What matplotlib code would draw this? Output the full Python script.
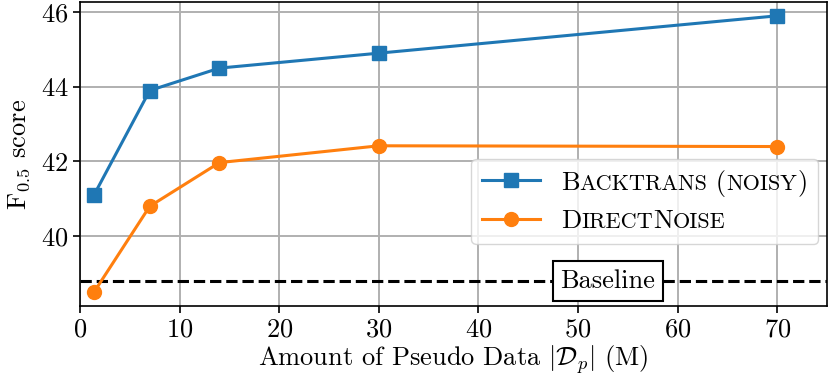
import numpy as np
import matplotlib
matplotlib.use('Agg')
import matplotlib.pyplot as plt
from matplotlib.offsetbox import TextArea, HPacker

plt.rcParams['font.family'] = 'serif'
plt.rcParams['font.serif'] = ['cmr10', 'DejaVu Serif']
plt.rcParams['mathtext.fontset'] = 'cm'
plt.rcParams['axes.formatter.use_mathtext'] = True

# data
pseudo_data = [1.4, 7, 14, 30, 70]
backtrans_noisy = [41.1, 43.9, 44.5, 44.9, 45.9]
direct_noise = [38.5, 40.8, 41.97, 42.42, 42.4]
baseline = 38.8

# small-caps pieces: (text, is_small)
label_pieces = [
    [('B', False), ('ACKTRANS', True), (' (', False), ('NOISY', True), (')', False)],
    [('D', False), ('IRECT', True), ('N', False), ('OISE', True)],
]

BIG = 19
SMALL = BIG * 0.84

fig = plt.figure(figsize=(8.3, 3.83), dpi=100)
ax = fig.add_subplot(111)
fig.subplots_adjust(left=0.0964, right=0.9964, top=0.9948, bottom=0.201)

ax.plot(pseudo_data, backtrans_noisy, marker='s', markersize=10, linewidth=2.2,
        color='C0', label='Backtrans (noisy)', zorder=3)
ax.plot(pseudo_data, direct_noise, marker='o', markersize=10, linewidth=2.2,
        color='C1', label='DirectNoise', zorder=3)
ax.axhline(baseline, color='black', linestyle='--', linewidth=2.2, zorder=2)
ax.text(53, baseline, 'Baseline', fontsize=BIG, ha='center', va='center', zorder=4,
        bbox=dict(boxstyle='square,pad=0.3', facecolor='white', edgecolor='black', linewidth=1.5))

ax.set_xlim(0, 75)
ax.set_xticks([0, 10, 20, 30, 40, 50, 60, 70])
ax.set_yticks([40, 42, 44, 46])
ax.tick_params(labelsize=BIG, width=1.2, length=5)
ax.grid(True, color='#b0b0b0', linewidth=1.4)
ax.set_axisbelow(True)
for s in ax.spines.values():
    s.set_linewidth(1.2)

ax.set_xlabel(r'Amount of Pseudo Data $|\mathcal{D}_p|$ (M)', fontsize=BIG, labelpad=1)
ax.set_ylabel(r'F$_{0.5}$ score', fontsize=BIG, labelpad=6)

leg = ax.legend(loc='upper right', bbox_to_anchor=(0.988, 0.4836), borderaxespad=0,
                fontsize=BIG, handlelength=2.2)

# swap legend labels for small-caps versions
rows = leg._legend_handle_box.get_children()[0].get_children()
for row, pieces in zip(rows, label_pieces):
    parts = [TextArea(t, textprops=dict(fontsize=SMALL if small else BIG))
             for t, small in pieces]
    box = HPacker(children=parts, align='baseline', pad=0, sep=0)
    box.set_figure(fig)
    row.get_children()[1] = box

fig.savefig('out.png', dpi=100)
